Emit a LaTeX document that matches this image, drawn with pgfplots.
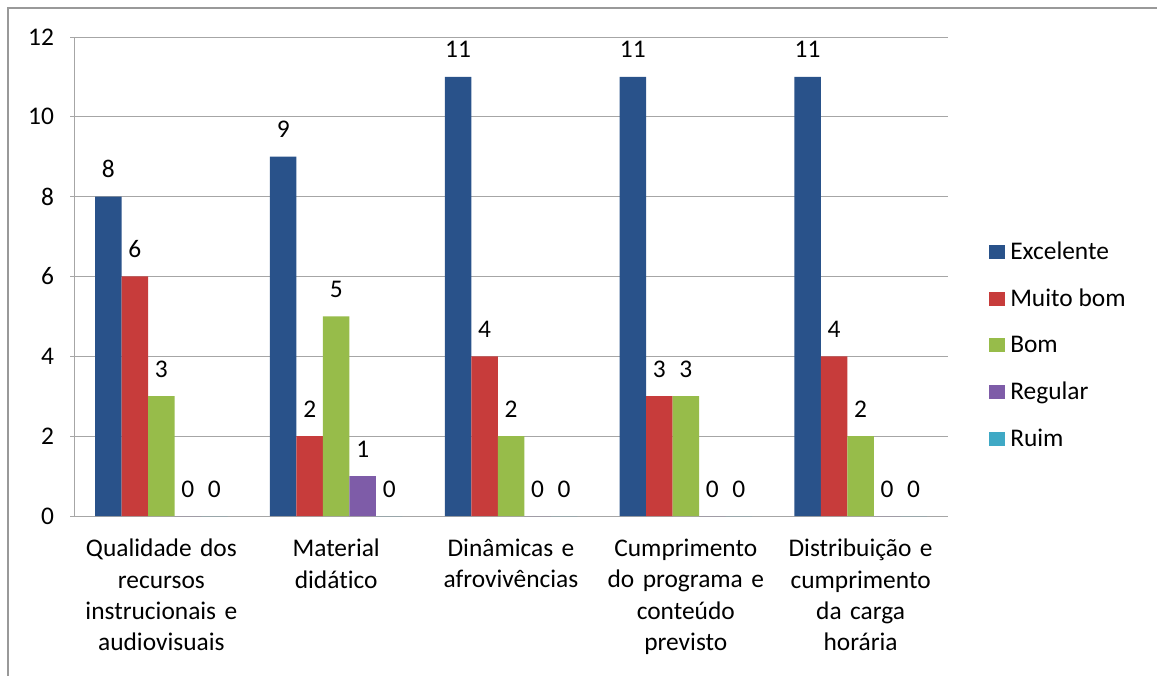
\documentclass[border=0pt]{standalone}
\usepackage{pgfplots}
\pgfplotsset{compat=1.18}
\usepackage{fontspec}
\setmainfont[Ligatures=NoCommon]{Carlito}
\definecolor{cblue}{HTML}{29528A}
\definecolor{cred}{HTML}{C73C3B}
\definecolor{cgreen}{HTML}{97BC4A}
\definecolor{cpurple}{HTML}{7E5CA8}
\definecolor{ccyan}{HTML}{3FA9C5}
\definecolor{gridgray}{HTML}{A6A6A6}
\begin{document}
\begin{tikzpicture}
\begin{axis}[
  at={(74bp,160bp)}, anchor=south west,
  scale only axis, width=874bp, height=479bp,
  ybar, bar width=26.5bp, ybar=0pt,
  xmin=-0.5, xmax=4.5, ymin=0, ymax=12,
  ytick={0,2,...,12},
  xtick={0,...,4},
  xticklabels={{Qualidade dos\\recursos\\instrucionais e\\audiovisuais},{Material\\didático},{Dinâmicas e\\afrovivências},{Cumprimento\\do programa e\\conteúdo\\previsto},{Distribuição e\\cumprimento\\da carga\\horária}},
  xticklabel style={align=center, text width=172bp, font=\fontsize{25.5}{31.5}\selectfont, yshift=-16bp},
  yticklabel style={font=\fontsize{25.5}{30}\selectfont, xshift=-13bp},
  /pgf/number format/assume math mode=true,
  major x tick style={draw=none},
  extra x ticks={-0.5,0.5,1.5,2.5,3.5,4.5},
  extra x tick labels={},
  extra x tick style={major tick length=9bp, tick align=outside, major tick style={draw=gridgray, thick}, xmajorgrids=false},
  major tick length=7bp, tick align=outside,
  ytick style={draw=gridgray, thick},
  axis lines=left, axis line style={-, draw=gridgray, thick},
  ymajorgrids, grid style={draw=gridgray, thick},
  nodes near coords,
  every node near coord/.append style={font=\fontsize{25.5}{30}\selectfont, anchor=base, yshift=19bp, /pgf/number format/assume math mode=true},
  legend style={at={(1.047,0.357)}, anchor=west, draw=none, fill=none, font=\fontsize{25.5}{30}\selectfont, row sep=24bp, inner sep=0pt},
  legend cell align=left,
  legend image code/.code={\fill[#1] (0bp,-7bp) rectangle (16bp,7bp); \path (19bp,0bp);},
  clip=false,
]
\addplot[fill=cblue, draw=none] coordinates {(0,8) (1,9) (2,11) (3,11) (4,11)};
\addplot[fill=cred, draw=none] coordinates {(0,6) (1,2) (2,4) (3,3) (4,4)};
\addplot[fill=cgreen, draw=none] coordinates {(0,3) (1,5) (2,2) (3,3) (4,2)};
\addplot[fill=cpurple, draw=none] coordinates {(0,0) (1,1) (2,0) (3,0) (4,0)};
\addplot[fill=ccyan, draw=none] coordinates {(0,0) (1,0) (2,0) (3,0) (4,0)};
\legend{Excelente, Muito bom, Bom, Regular, Ruim}
\end{axis}
\draw[gray!80, line width=1.5bp] (8bp,0bp) -- (8bp,668bp) -- (1157bp,668bp);
\pgfresetboundingbox
\path[use as bounding box] (0,0) rectangle (1157bp,676bp);
\end{tikzpicture}
\end{document}
